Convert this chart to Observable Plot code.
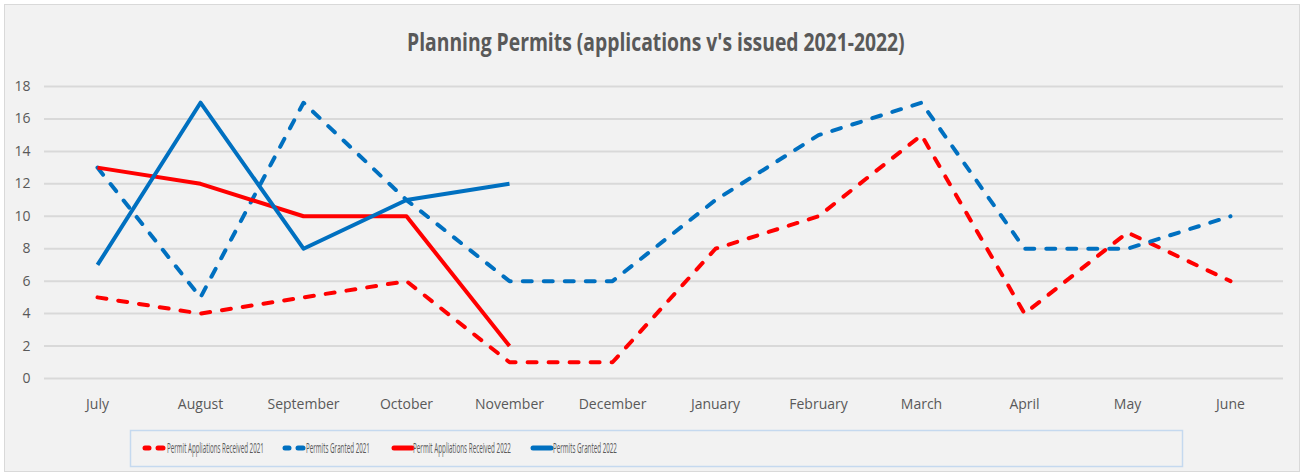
<!DOCTYPE html>
<html>
<head>
<meta charset="utf-8">
<script src="https://cdn.jsdelivr.net/npm/d3@7"></script>
<script src="https://cdn.jsdelivr.net/npm/@observablehq/plot@0.6"></script>
<style>
  html, body { margin: 0; padding: 0; background: #ffffff; }
  #wrap { position: relative; width: 1307px; height: 476px; overflow: hidden; font-family: "Open Sans", "DejaVu Sans", sans-serif; }
  #frame { position: absolute; left: 4px; top: 4px; width: 1294px; height: 466px; background: #f2f2f2; border: 1px solid #d9d9d9; }
  #title { position: absolute; left: 0; top: 0; }
  #chart { position: absolute; left: 0; top: 70px; }
  #legend { position: absolute; left: 0; top: 0; }
</style>
</head>
<body>
<div id="wrap">
  <div id="frame"></div>
  <svg id="title" width="1307" height="70"></svg>
  <div id="chart"></div>
  <svg id="legend" width="1307" height="476"></svg>
</div>
<script>
const titleText = "Planning Permits (applications v's issued 2021-2022)";
const months = ["July","August","September","October","November","December","January","February","March","April","May","June"];
const seriesNames = ["Permit Appliations Received 2021","Permits Granted 2021","Permit Appliations Received 2022","Permits Granted 2022"];
const received2021 = [5,4,5,6,1,1,8,10,15,4,9,6];
const granted2021  = [13,5,17,11,6,6,11,15,17,8,8,10];
const received2022 = [13,12,10,10,2];
const granted2022  = [7,17,8,11,12];
const yTicks = [0,2,4,6,8,10,12,14,16,18];

const styles = [
  {color: "#ff0000", dash: "9,12"},
  {color: "#0070c0", dash: "9,12"},
  {color: "#ff0000", dash: null},
  {color: "#0070c0", dash: null}
];
const valuesList = [received2021, granted2021, received2022, granted2022];
const rows = [];
valuesList.forEach((vals, si) => vals.forEach((v, i) => rows.push({series: seriesNames[si], month: months[i], value: v})));

const lineMarks = seriesNames.map((name, si) => Plot.line(rows.filter(d => d.series === name), {
  x: "month", y: "value",
  stroke: styles[si].color,
  strokeWidth: 4,
  strokeDasharray: styles[si].dash || undefined,
  strokeLinecap: styles[si].dash ? "round" : "butt",
  strokeLinejoin: "round"
}));

const chart = Plot.plot({
  width: 1307,
  height: 350,
  marginLeft: 44,
  marginRight: 24,
  marginTop: 16,
  marginBottom: 42,
  style: {background: "transparent", fontFamily: "'Open Sans', 'DejaVu Sans', sans-serif", fontSize: "14px", color: "#595959"},
  x: {type: "point", domain: months, padding: 0.5},
  y: {domain: [0, 18]},
  marks: [
    Plot.gridY(yTicks, {stroke: "#d9d9d9", strokeOpacity: 1, strokeWidth: 2}),
    Plot.axisY(yTicks, {tickSize: 0, tickPadding: 14, label: null, fontSize: 14, fill: "#595959"}),
    Plot.axisX(months, {tickSize: 0, tickPadding: 21, label: null, fontSize: 14, fill: "#595959"}),
    ...lineMarks
  ]
});
document.getElementById("chart").appendChild(chart);

// horizontally condensed text helper (reference text is narrow)
function condensedText(sel, str, x, y, size, width, anchor, weight) {
  const g = sel.append("g");
  const t = g.append("text").attr("font-size", size).attr("fill", "#595959")
    .attr("font-weight", weight || "normal").text(str);
  const natural = t.node().getComputedTextLength();
  const sx = width / natural;
  const left = anchor === "middle" ? x - width / 2 : x;
  g.attr("transform", `translate(${left},${y}) scale(${sx},1)`);
}

condensedText(d3.select("#title"), titleText, 656, 51, 25, 498, "middle", "bold");

const legendTextX = [167, 306, 413, 553];
const legendTextW = [97, 64, 98, 64];
const legendSwatchX = [143, 283, 392, 531];
const lg = d3.select("#legend");
lg.append("rect").attr("x", 130.5).attr("y", 430.5).attr("width", 1052).attr("height", 36)
  .attr("fill", "none").attr("stroke", "#c5d9ef").attr("stroke-width", 1.5);
seriesNames.forEach((name, si) => {
  const s = styles[si];
  const sx = legendSwatchX[si];
  if (s.dash) {
    [[sx + 2, sx + 6], [sx + 15, sx + 20]].forEach(([a, b]) =>
      lg.append("line").attr("x1", a).attr("x2", b).attr("y1", 448).attr("y2", 448)
        .attr("stroke", s.color).attr("stroke-width", 5).attr("stroke-linecap", "round"));
  } else {
    lg.append("line").attr("x1", sx + 2).attr("x2", sx + 20).attr("y1", 448).attr("y2", 448)
      .attr("stroke", s.color).attr("stroke-width", 5).attr("stroke-linecap", "round");
  }
  condensedText(lg, name, legendTextX[si], 453, 15, legendTextW[si], "start");
});
</script>
</body>
</html>
